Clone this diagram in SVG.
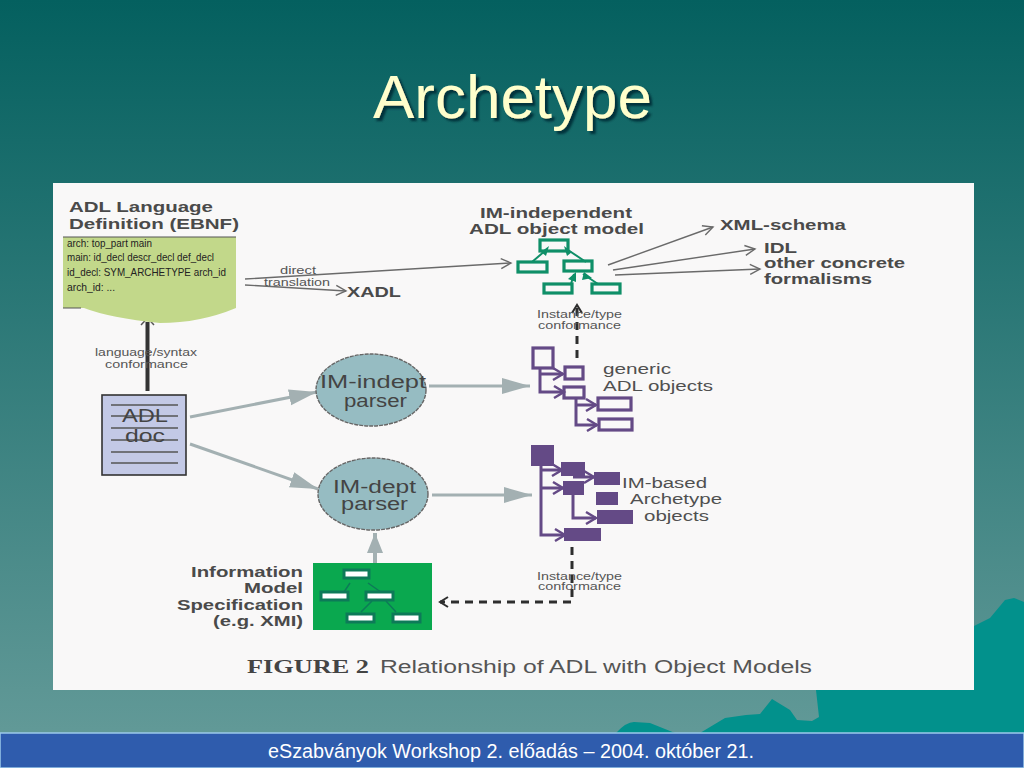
<svg xmlns="http://www.w3.org/2000/svg" width="1024" height="768" viewBox="0 0 1024 768">
<style>
text{font-family:"Liberation Sans",Arial,sans-serif;fill:#4a4a4a}
.l{font-size:15.5px;font-weight:bold}
.m{font-size:15.5px;fill:#505050}
.s{font-size:11.5px;fill:#555}
.c{font-size:11.5px;fill:#222}
.p{font-size:17.5px;fill:#444}
.gr{fill:none;stroke:#a3b0b2;stroke-width:3}
.th{fill:none;stroke:#6a6a6a;stroke-width:1.4}
.pl{fill:none;stroke:#644a86;stroke-width:3}
.pb{fill:none;stroke:#644a86;stroke-width:3.2}
.pf{fill:#644a86}
.gb{fill:none;stroke:#0f8f68;stroke-width:3.2}
.gw{fill:#fff;stroke:#0d7a58;stroke-width:3}
.da{fill:none;stroke:#2e2e2e;stroke-width:3;stroke-dasharray:8 6}
</style>
<defs>
<linearGradient id="bg" x1="0" y1="0" x2="0" y2="1"><stop offset="0" stop-color="#04605f"/><stop offset="1" stop-color="#669c9a"/></linearGradient>
<filter id="shadow" x="-5%" y="-5%" width="110%" height="120%"><feDropShadow dx="3" dy="3" stdDeviation="0.8" flood-color="#00323a"/></filter>
<marker id="ag" markerUnits="userSpaceOnUse" markerWidth="32" markerHeight="20" refX="28" refY="10" orient="auto"><path d="M0 2L28 10L0 18Z" fill="#a3b0b2"/></marker>
<marker id="ao" markerUnits="userSpaceOnUse" markerWidth="14" markerHeight="12" refX="11" refY="6" orient="auto"><path d="M1 1L11 6L1 11" fill="none" stroke="#6a6a6a" stroke-width="1.4"/></marker>
<marker id="ap" markerUnits="userSpaceOnUse" markerWidth="14" markerHeight="14" refX="11" refY="7" orient="auto"><path d="M1 1L11 7L1 13" fill="none" stroke="#644a86" stroke-width="2.4"/></marker>
<marker id="ad" markerUnits="userSpaceOnUse" markerWidth="12" markerHeight="12" refX="9" refY="6" orient="auto"><path d="M1 1L9 6L1 11" fill="none" stroke="#2e2e2e" stroke-width="2"/></marker>
</defs>
<g id="background">
<rect width="1024" height="768" fill="url(#bg)"/>
<path d="M616 733Q626 722 634 722L650 723L675 733H700L725 718L746 715L760 714L772 699L790 710L797 720L812 721L819 717L816 690H1024V768H616Z" fill="#02918c"/>
<path d="M974 626L990 618L1005 600L1014 598L1024 602V690H974Z" fill="#02918c"/>
<rect x="0" y="733" width="1024" height="35" fill="#2f5cad" stroke="#9cc9ea" stroke-width="1.5"/>
</g>
<text id="title" x="373" y="118" font-size="62" textLength="279" lengthAdjust="spacingAndGlyphs" filter="url(#shadow)" style="fill:#ffffcc">Archetype</text>
<text id="footer" x="268" y="758" font-size="20" textLength="486" lengthAdjust="spacingAndGlyphs" style="fill:#fff">eSzabványok Workshop 2. előadás – 2004. október 21.</text>
<rect id="panel" x="53" y="183" width="921" height="507" fill="#f9f8f8"/>

<g id="connectors">
<path d="M245 279L511 263" class="th" marker-end="url(#ao)"/>
<path d="M245 285L346 291" class="th" marker-end="url(#ao)"/>
<path d="M608 265L713 227" class="th" marker-end="url(#ao)"/>
<path d="M613 270L755 249" class="th" marker-end="url(#ao)"/>
<path d="M615 275L760 269" class="th" marker-end="url(#ao)"/>
<path d="M147.500 391V322" fill="none" stroke="#333" stroke-width="4"/>
<path d="M141 325L147.500 318L154 325" fill="none" stroke="#555" stroke-width="1.5"/>
<path d="M190 417L317 392" class="gr" marker-end="url(#ag)"/>
<path d="M190 444L318 489" class="gr" marker-end="url(#ag)"/>
<path d="M429 386H530" class="gr" marker-end="url(#ag)"/>
<path d="M432 495H532" class="gr" marker-end="url(#ag)"/>
<path d="M375 573V533" fill="none" stroke="#a3b0b2" stroke-width="4"/>
<path d="M367 553L375 533L383 553Z" fill="#a3b0b2"/>
<path d="M577 358V305" class="da" marker-end="url(#ad)"/>
<path d="M572 547V602H440" class="da" marker-end="url(#ad)"/>
</g>

<g id="node-ebnf">
<text class="l" x="69" y="212" textLength="144" lengthAdjust="spacingAndGlyphs">ADL Language</text>
<text class="l" x="69" y="229" textLength="170" lengthAdjust="spacingAndGlyphs">Definition (EBNF)</text>
<path d="M63 237H236V308Q200 323 160 323Q110 318 84 308H63Z" fill="#c2d88a"/>
<path d="M63 237H236M63 308H81" stroke="#555" stroke-width="1.2" fill="none"/>
<text class="c" x="67" y="247" textLength="85" lengthAdjust="spacingAndGlyphs">arch: top_part main</text>
<text class="c" x="67" y="261" textLength="147" lengthAdjust="spacingAndGlyphs">main: id_decl descr_decl def_decl</text>
<text class="c" x="67" y="276" textLength="159" lengthAdjust="spacingAndGlyphs">id_decl: SYM_ARCHETYPE arch_id</text>
<text class="c" x="67" y="291" textLength="48" lengthAdjust="spacingAndGlyphs">arch_id: ...</text>
</g>
<g id="label-translation">
<text class="s" x="280" y="274" textLength="36" lengthAdjust="spacingAndGlyphs">direct</text>
<text class="s" x="264" y="286" textLength="66" lengthAdjust="spacingAndGlyphs">translation</text>
<text class="l" x="347" y="297" textLength="54" lengthAdjust="spacingAndGlyphs">XADL</text>
</g>
<g id="label-syntax">
<text class="s" x="95" y="356" textLength="102" lengthAdjust="spacingAndGlyphs">language/syntax</text>
<text class="s" x="105" y="368" textLength="83" lengthAdjust="spacingAndGlyphs">conformance</text>
</g>

<g id="node-adl-doc">
<rect x="102" y="395" width="84" height="80" fill="#c3c9e6" stroke="#333" stroke-width="1.6"/>
<path d="M111 405H178M111 416H178M111 428H178M111 440H178M111 452H178M111 463H178" stroke="#555" stroke-width="1.5"/>
<text class="p" x="122" y="422" textLength="46" lengthAdjust="spacingAndGlyphs">ADL</text>
<text class="p" x="125" y="442" textLength="40" lengthAdjust="spacingAndGlyphs">doc</text>
</g>

<g id="node-im-indept">
<ellipse cx="371" cy="390" rx="55" ry="36" fill="#96bcc2" stroke="#666" stroke-width="1.4" stroke-dasharray="4 1"/>
<text class="p" x="320" y="388" textLength="106" lengthAdjust="spacingAndGlyphs">IM-indept</text>
<text class="p" x="344" y="407" textLength="63" lengthAdjust="spacingAndGlyphs">parser</text>
</g>
<g id="node-im-dept">
<ellipse cx="373" cy="494" rx="55" ry="36" fill="#96bcc2" stroke="#666" stroke-width="1.4" stroke-dasharray="4 1"/>
<text class="p" x="333" y="493" textLength="83" lengthAdjust="spacingAndGlyphs">IM-dept</text>
<text class="p" x="341" y="510" textLength="67" lengthAdjust="spacingAndGlyphs">parser</text>
</g>

<g id="node-object-model">
<text class="l" x="480" y="218" textLength="152" lengthAdjust="spacingAndGlyphs">IM-independent</text>
<text class="l" x="469" y="234" textLength="175" lengthAdjust="spacingAndGlyphs">ADL object model</text>
<path d="M532 262L546 250M586 262L568 250M571 284L574 274M598 284L583 274" stroke="#0f8f68" stroke-width="2" fill="none"/>
<path d="M541 252L549 246L546 256ZM572 252L564 246L567 256ZM568 279L576 272L576 282ZM584 272L592 278L582 280Z" fill="#0f8f68"/>
<rect class="gb" x="540" y="240" width="28" height="11"/>
<rect class="gb" x="518" y="262" width="29" height="10"/>
<rect class="gb" x="564" y="261" width="28" height="10"/>
<rect class="gb" x="544" y="284" width="28" height="9"/>
<rect class="gb" x="592" y="284" width="28" height="9"/>
</g>
<g id="targets">
<text class="l" x="720" y="230" textLength="126" lengthAdjust="spacingAndGlyphs">XML-schema</text>
<text class="l" x="764" y="253" textLength="33" lengthAdjust="spacingAndGlyphs">IDL</text>
<text class="l" x="764" y="268" textLength="141" lengthAdjust="spacingAndGlyphs">other concrete</text>
<text class="l" x="764" y="284" textLength="108" lengthAdjust="spacingAndGlyphs">formalisms</text>
</g>
<g id="label-instance-1">
<text class="s" x="537" y="318" textLength="85" lengthAdjust="spacingAndGlyphs">Instance/type</text>
<text class="s" x="538" y="329" textLength="83" lengthAdjust="spacingAndGlyphs">conformance</text>
</g>

<g id="node-generic">
<path class="pl" d="M540 368V392H564" marker-end="url(#ap)"/>
<path class="pl" d="M540 374H563" marker-end="url(#ap)"/>
<path class="pl" d="M576 398V425H597" marker-end="url(#ap)"/>
<path class="pl" d="M576 405H596" marker-end="url(#ap)"/>
<rect class="pb" x="533" y="348" width="20" height="20"/>
<rect class="pb" x="565" y="367" width="18" height="12"/>
<rect class="pb" x="564" y="387" width="20" height="11"/>
<rect class="pb" x="598" y="398" width="33" height="12"/>
<rect class="pb" x="599" y="419" width="33" height="11"/>
<text class="m" x="603" y="374" textLength="68" lengthAdjust="spacingAndGlyphs">generic</text>
<text class="m" x="603" y="391" textLength="110" lengthAdjust="spacingAndGlyphs">ADL objects</text>
</g>

<g id="node-im-based">
<path class="pl" d="M541 465V535H565" marker-end="url(#ap)"/>
<path class="pl" d="M541 470H562" marker-end="url(#ap)"/>
<path class="pl" d="M541 488H563" marker-end="url(#ap)"/>
<path class="pl" d="M573 495V518H596" marker-end="url(#ap)"/>
<path class="pl" d="M573 477H594" marker-end="url(#ap)"/>
<rect class="pf" x="531" y="445" width="23" height="21"/>
<rect class="pf" x="561" y="462" width="24" height="14"/>
<rect class="pf" x="563" y="481" width="21" height="14"/>
<rect class="pf" x="594" y="472" width="26" height="13"/>
<rect class="pf" x="596" y="492" width="22" height="13"/>
<rect class="pf" x="597" y="510" width="36" height="14"/>
<rect class="pf" x="564" y="528" width="37" height="13"/>
<text class="m" x="622" y="488" textLength="85" lengthAdjust="spacingAndGlyphs">IM-based</text>
<text class="m" x="630" y="504" textLength="92" lengthAdjust="spacingAndGlyphs">Archetype</text>
<text class="m" x="644" y="521" textLength="65" lengthAdjust="spacingAndGlyphs">objects</text>
</g>
<g id="label-instance-2">
<text class="s" x="537" y="580" textLength="85" lengthAdjust="spacingAndGlyphs">Instance/type</text>
<text class="s" x="538" y="590" textLength="83" lengthAdjust="spacingAndGlyphs">conformance</text>
</g>

<g id="node-info-model">
<text class="l" x="191" y="577" textLength="112" lengthAdjust="spacingAndGlyphs">Information</text>
<text class="l" x="244" y="593" textLength="59" lengthAdjust="spacingAndGlyphs">Model</text>
<text class="l" x="177" y="610" textLength="126" lengthAdjust="spacingAndGlyphs">Specification</text>
<text class="l" x="213" y="626" textLength="90" lengthAdjust="spacingAndGlyphs">(e.g. XMI)</text>
<rect x="313" y="563" width="119" height="67" fill="#0aa84f"/>
<path d="M342 595L350 583M385 595L368 583M361 612L372 601M396 612L386 601" stroke="#0d7a58" stroke-width="1.5" fill="none"/>
<rect class="gw" x="344" y="570" width="25" height="8"/>
<rect class="gw" x="321" y="592" width="27" height="8"/>
<rect class="gw" x="366" y="592" width="27" height="8"/>
<rect class="gw" x="347" y="614" width="27" height="8"/>
<rect class="gw" x="393" y="614" width="27" height="8"/>
</g>

<g id="caption">
<text x="247" y="673" font-size="18" font-weight="bold" textLength="122" lengthAdjust="spacingAndGlyphs" style="font-family:'Liberation Serif',serif;fill:#444">FIGURE  2</text>
<text x="380" y="673" font-size="18" textLength="432" lengthAdjust="spacingAndGlyphs" style="fill:#555">Relationship of ADL with Object Models</text>
</g>
</svg>
